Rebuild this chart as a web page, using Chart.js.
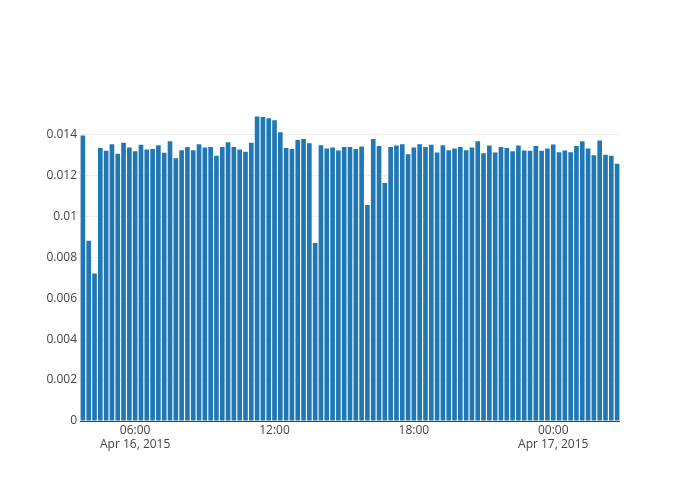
<!DOCTYPE html>
<html>
<head>
<meta charset="utf-8">
<script src="https://cdn.jsdelivr.net/npm/chart.js@4.4.1/dist/chart.umd.min.js"></script>
<style>
  body { margin: 0; background: #fff; }
  #canvas { display: block; }
</style>
</head>
<body>
<canvas id="canvas" width="700" height="500"></canvas>
<script>
// hours since Apr 16 2015 00:00, one bar every 15 minutes (03:45 .. 02:45 next day)
var startHour = 3.75;
var stepHour = 0.25;
var values = [
    0.01395, 0.0088, 0.0072, 0.01333, 0.0132, 0.01352, 0.01305, 0.01359, 0.01336, 0.01318,
    0.01349, 0.01326, 0.01328, 0.01347, 0.0131, 0.01367, 0.01283, 0.01323, 0.01338, 0.01323,
    0.01352, 0.01336, 0.01338, 0.01295, 0.01338, 0.01362, 0.01338, 0.01326, 0.01315, 0.01359,
    0.01487, 0.01485, 0.01479, 0.01469, 0.0141, 0.01334, 0.01328, 0.01372, 0.01377, 0.01357,
    0.0087, 0.01347, 0.01331, 0.01336, 0.01321, 0.01338, 0.01338, 0.01328, 0.01341, 0.01055,
    0.01377, 0.01343, 0.01162, 0.01338, 0.01346, 0.01352, 0.01303, 0.01336, 0.01352, 0.01338,
    0.01349, 0.01311, 0.01347, 0.01323, 0.01331, 0.01338, 0.01323, 0.01336, 0.01367, 0.01308,
    0.01346, 0.01311, 0.01338, 0.01334, 0.01318, 0.01346, 0.01321, 0.0132, 0.01343, 0.0132,
    0.01331, 0.01351, 0.01313, 0.01321, 0.01313, 0.01343, 0.01366, 0.01331, 0.01298, 0.0137,
    0.01301, 0.01295, 0.01257
];
var xTicks = [6, 12, 18, 24];
var xTickLabels = [["06:00", "Apr 16, 2015"], ["12:00"], ["18:00"], ["00:00", "Apr 17, 2015"]];
var yTicks = [0, 0.002, 0.004, 0.006, 0.008, 0.01, 0.012, 0.014];

var points = values.map(function (v, i) {
    return { x: startHour + i * stepHour, y: v };
});

var font = { family: "'Open Sans', sans-serif", size: 12 };

const canvas = document.getElementById("canvas");
const chart = new Chart(canvas, {
    type: "bar",
    data: {
        datasets: [{
            data: points,
            backgroundColor: "#1f77b4",
            borderWidth: 0,
            barPercentage: 0.8,
            categoryPercentage: 1.0
        }]
    },
    options: {
        responsive: false,
        animation: false,
        layout: { padding: { left: 0, right: 80, top: 101, bottom: 0 } },
        plugins: { legend: { display: false }, tooltip: { enabled: false } },
        scales: {
            x: {
                type: "linear",
                min: startHour - stepHour / 2,
                max: startHour + (values.length - 0.5) * stepHour,
                offset: false,
                grid: { display: false, drawTicks: false },
                border: { display: false },
                afterBuildTicks: function (scale) {
                    scale.ticks = xTicks.map(function (v) { return { value: v }; });
                },
                afterFit: function (scale) { scale.height = 79; },
                ticks: {
                    color: "#444",
                    font: font,
                    padding: 2,
                    maxRotation: 0,
                    autoSkip: false,
                    callback: function (v) {
                        var i = xTicks.indexOf(v);
                        return i >= 0 ? xTickLabels[i] : "";
                    }
                }
            },
            y: {
                min: 0,
                max: 0.01563,
                grid: {
                    drawTicks: false,
                    color: function (ctx) { return ctx.tick && ctx.tick.value === 0 ? "#444" : "#eee"; }
                },
                border: { display: false },
                afterBuildTicks: function (scale) {
                    scale.ticks = yTicks.map(function (v) { return { value: v }; });
                },
                afterFit: function (scale) { scale.width = 80; },
                ticks: {
                    color: "#444",
                    font: font,
                    padding: 3,
                    callback: function (v) { return String(+v.toFixed(3)); }
                }
            }
        }
    }
});
</script>
</body>
</html>
